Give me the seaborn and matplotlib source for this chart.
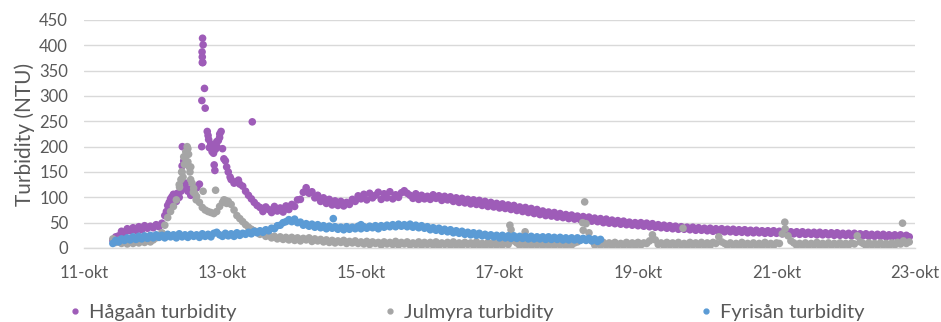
import numpy as np
import pandas as pd
import matplotlib
matplotlib.use("Agg")
import matplotlib.pyplot as plt
from matplotlib.lines import Line2D
import seaborn as sns

series_names = ["Hågaån turbidity", "Julmyra turbidity", "Fyrisån turbidity"]
series_colors = ["#9E5CB8", "#A5A5A5", "#5B9BD5"]

# Hourly logger readings (NTU); first reading 11 Oct 10:00
first_reading = 11 + 10 / 24

hagaan = [
    15, 22, 24, 33, 30, 38, 34, 40, 35, 42, 36, 44, 39, 43,                                                      # 11 okt
    40, 46, 42, 49, 64, 84, 97, 106, 92, 100, 162, 118, 112, 104, 118, 121, 126, 366, 276, 222, 205, 192, 210, 218,  # 12 okt
    196, 172, 150, 135, 128, 131, 126, 122, 112, 104, 97, 90, 84, 80, 72, 81, 76, 70, 82, 73, 79, 71, 83, 76,     # 13 okt
    86, 82, 95, 96, 110, 119, 108, 111, 99, 104, 92, 99, 88, 96, 85, 93, 84, 92, 83, 90, 86, 96, 92, 103,         # 14 okt
    97, 106, 95, 108, 99, 104, 110, 96, 107, 99, 111, 97, 105, 100, 109, 113, 108, 104, 98, 107, 96, 104, 97, 102,  # 15 okt
    96, 105, 98, 103, 94, 102, 95, 101, 92, 99, 90, 98, 89, 96, 87, 95, 86, 94, 84, 92, 82, 90, 81, 88,           # 16 okt
    79, 87, 78, 85, 76, 84, 74, 81, 72, 80, 70, 78, 68, 76, 66, 73, 64, 71, 63, 70, 61, 68, 60, 66,               # 17 okt
    58, 65, 57, 63, 56, 62, 54, 61, 53, 59, 52, 58, 50, 57, 49, 55, 48, 54, 47, 53, 46, 51, 45, 50,               # 18 okt
    44, 50, 43, 49, 42, 48, 41, 46, 40, 45, 39, 44, 38, 43, 37, 42, 37, 41, 36, 41, 35, 40, 35, 39,               # 19 okt
    34, 39, 33, 38, 33, 38, 32, 37, 32, 37, 31, 36, 31, 36, 30, 35, 30, 35, 30, 34, 29, 34, 29, 34,               # 20 okt
    29, 33, 28, 33, 28, 32, 28, 32, 27, 32, 27, 31, 27, 31, 26, 31, 26, 30, 26, 30, 25, 30, 25, 29,               # 21 okt
    25, 29, 24, 29, 24, 28, 24, 28, 23, 27, 23, 27, 23, 27, 22, 26, 22, 26, 22, 26, 21, 25, 22,                   # 22 okt
]

julmyra = [
    18, 11, 15, 9, 14, 8, 13, 9, 15, 10, 14, 11, 16, 12,
    16, 20, 22, 30, 45, 60, 72, 82, 95, 125, 150, 178, 196, 160, 118, 102, 90, 80, 75, 72, 70, 68, 72, 82,
    90, 94, 92, 86, 75, 64, 58, 52, 46, 41, 37, 34, 31, 27, 29, 23, 25, 20, 23, 18, 22, 17, 21, 16,
    21, 15, 20, 14, 19, 16, 20, 13, 18, 14, 17, 12, 16, 11, 15, 10, 14, 11, 15, 9, 13, 10, 14, 9,
    12, 8, 13, 7, 12, 9, 11, 6, 12, 8, 11, 7, 13, 6, 11, 8, 12, 6, 10, 7, 12, 5, 11, 7,
    11, 6, 12, 5, 10, 7, 11, 5, 12, 6, 10, 5, 11, 7, 10, 5, 12, 6, 9, 5, 11, 6, 10, 5,
    11, 6, 12, 7, 36, 14, 10, 5, 11, 6, 9, 5, 11, 6, 10, 5, 12, 6, 9, 5, 11, 6, 10, 5,
    11, 6, 10, 12, 16, 35, 48, 30, 14, 6, 10, 5, 11, 6, 10, 5, 11, 6, 9, 5, 11, 6, 10, 5,
    11, 6, 10, 9, 14, 26, 16, 7, 10, 5, 11, 6, 10, 5, 11, 6, 9, 5, 11, 6, 10, 5, 11, 6,
    10, 5, 11, 9, 22, 12, 9, 5, 10, 6, 9, 5, 11, 6, 9, 5, 10, 6, 9, 5, 11, 6, 9, 5,
    10, 9, 28, 38, 24, 14, 10, 5, 9, 6, 10, 5, 9, 6, 11, 5, 9, 6, 10, 5, 9, 6, 10, 5,
    9, 6, 10, 8, 24, 12, 9, 5, 10, 6, 9, 5, 10, 6, 9, 5, 10, 6, 11, 8, 14, 9, 12,
]

fyrisan = [
    9, 15, 12, 18, 15, 20, 16, 22, 17, 23, 18, 24, 19, 25,
    20, 26, 21, 25, 20, 27, 22, 26, 20, 28, 22, 26, 21, 27, 23, 26, 21, 28, 23, 27, 22, 29, 31, 26,
    23, 29, 24, 28, 23, 30, 25, 29, 27, 31, 28, 33, 30, 34, 31, 36, 34, 39, 38, 44, 45, 50, 52, 56,
    52, 57, 50, 51, 45, 48, 43, 47, 41, 46, 40, 44, 38, 43, 39, 42, 37, 41, 36, 42, 37, 41, 38, 43,
    38, 42, 39, 43, 40, 44, 38, 44, 41, 45, 42, 46, 42, 47, 43, 46, 42, 47, 41, 45, 40, 44, 39, 42,
    36, 40, 35, 39, 33, 37, 32, 36, 30, 34, 29, 33, 27, 31, 26, 30, 25, 29, 24, 27, 23, 26, 22, 25,
    20, 25, 20, 24, 19, 24, 19, 23, 19, 23, 18, 23, 18, 22, 18, 22, 17, 22, 17, 21, 17, 21, 16, 20,
    16, 20, 16, 20, 15, 19, 15, 19, 14, 18, 13, 17,
]

# Additional high-frequency readings during the flood peak and spikes (day of October, NTU)
hagaan_extra_days = [12.19, 12.23, 12.27, 12.31, 12.35,
                     12.40, 12.42, 12.44, 12.47, 12.52, 12.57, 12.63, 12.70, 12.702, 12.705,
                     12.708, 12.712, 12.716, 12.72, 12.74, 12.78, 12.80, 12.81, 12.83, 12.85,
                     12.87, 12.88, 12.89, 12.90, 12.92, 12.94, 12.96, 12.98, 13.02, 13.06,
                     13.11, 13.19, 13.23, 13.43]
hagaan_extra_values = [72, 90, 101, 96, 108,
                       112, 200, 172, 128, 116, 110, 119, 200, 291, 387,
                       377, 414, 366, 401, 315, 230, 214, 198, 205, 190,
                       187, 164, 153, 195, 200, 212, 225, 230, 176, 160,
                       140, 130, 134, 249]

julmyra_extra_days = [12.38, 12.40, 12.41, 12.43, 12.44, 12.45, 12.47, 12.49, 12.50, 12.51,
                      12.52, 12.53, 12.54, 12.56, 12.58, 12.60, 12.62, 12.72, 12.90,
                      13.02, 13.06, 17.15, 17.37, 18.23, 18.20, 19.65, 21.12, 22.82]
julmyra_extra_values = [120, 135, 150, 140, 180, 165, 190, 200, 170, 185,
                        160, 150, 135, 128, 110, 108, 95, 112, 114,
                        95, 88, 45, 32, 91, 50, 39, 51, 49]

fyrisan_extra_days = [14.60, 15.00]
fyrisan_extra_values = [58, 46]

tick_days = [11, 13, 15, 17, 19, 21, 23]
tick_labels = ["11-okt", "13-okt", "15-okt", "17-okt", "19-okt", "21-okt", "23-okt"]
y_ticks = [0, 50, 100, 150, 200, 250, 300, 350, 400, 450]


def series_frame(name, hourly, extra_days, extra_values):
    days = first_reading + np.arange(len(hourly)) / 24
    return pd.DataFrame({
        "day": np.concatenate([days, extra_days]),
        "ntu": np.concatenate([hourly, extra_values]),
        "series": name,
    })


df = pd.concat([
    series_frame(series_names[0], hagaan, hagaan_extra_days, hagaan_extra_values),
    series_frame(series_names[1], julmyra, julmyra_extra_days, julmyra_extra_values),
    series_frame(series_names[2], fyrisan, fyrisan_extra_days, fyrisan_extra_values),
], ignore_index=True)

sns.set_theme(style="white")
plt.rcParams["font.family"] = ["Lato", "DejaVu Sans"]
text_color = "#595959"
grid_color = "#D9D9D9"

fig = plt.figure(figsize=(9.41, 3.22), dpi=100)
ax = fig.add_axes([84 / 941, 74 / 322, 831 / 941, 228 / 322])

sns.scatterplot(data=df, x="day", y="ntu", hue="series", hue_order=series_names,
                palette=series_colors, s=30, linewidth=0, alpha=1.0,
                legend=False, ax=ax, zorder=3)

ax.set_xlim(11, 23)
ax.set_ylim(0, 450)
ax.set_xticks(tick_days)
ax.set_xticklabels(tick_labels)
ax.set_yticks(y_ticks)
ax.set_xlabel("")
ax.set_ylabel("Turbidity (NTU)", fontsize=15, color=text_color, labelpad=3)
ax.tick_params(axis="both", length=0, labelsize=12, colors=text_color)
ax.tick_params(axis="x", pad=12)
ax.tick_params(axis="y", pad=11.5)
ax.grid(axis="y", color=grid_color, linewidth=1)
ax.set_axisbelow(True)
for side in ["left", "right", "top"]:
    ax.spines[side].set_visible(False)
ax.spines["bottom"].set_color(grid_color)
ax.spines["bottom"].set_linewidth(1)

handles = [Line2D([], [], marker="o", linestyle="", color=c, markersize=3.5)
           for c in series_colors]
fig.legend(handles, series_names, loc="center", bbox_to_anchor=(467 / 941, 10 / 322),
           ncol=3, frameon=False, fontsize=14.5, labelcolor=text_color,
           handlelength=0.6, handletextpad=0.4, columnspacing=7.3)

fig.savefig("out.png", dpi=100)
